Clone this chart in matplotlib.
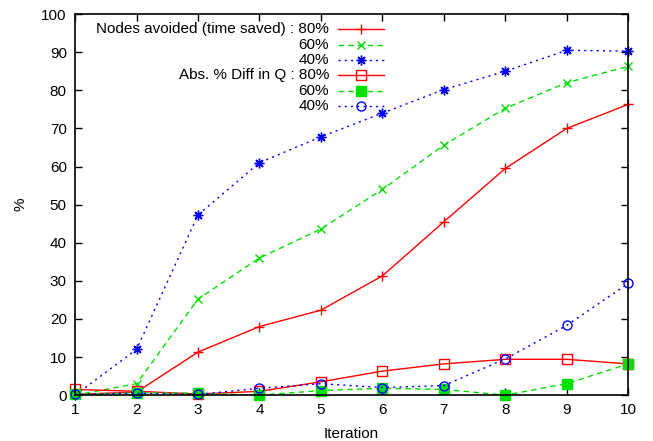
import matplotlib
matplotlib.use('Agg')
from matplotlib import pyplot as plt
from matplotlib.lines import Line2D

plt.rcParams['font.family'] = ['Liberation Sans', 'DejaVu Sans']

# Dados
iteracoes = [1, 2, 3, 4, 5, 6, 7, 8, 9, 10]

nos_80 = [0.2, 0.8, 11.3, 18.0, 22.3, 31.3, 45.5, 59.5, 70.0, 76.3]
nos_60 = [0.0, 3.0, 25.2, 36.0, 43.6, 54.0, 65.6, 75.3, 82.0, 86.3]
nos_40 = [0.0, 12.0, 47.3, 61.0, 67.8, 74.0, 80.2, 85.0, 90.5, 90.3]

diff_80 = [1.5, 1.0, 0.3, 1.0, 3.5, 6.3, 8.2, 9.4, 9.4, 8.2]
diff_60 = [0.2, 0.6, 0.5, 0.0, 1.2, 1.8, 1.5, 0.0, 3.0, 8.2]
diff_40 = [0.2, 0.5, 0.2, 1.8, 3.0, 2.0, 2.5, 9.5, 18.3, 29.3]

legenda = ['Nodes avoided (time saved) : 80%', '60%', '40%',
           'Abs. % Diff in Q : 80%', '60%', '40%']

vermelho, verde, azul = '#ff0000', '#00e000', '#0000ff'
asterisco = (8, 2, 0)

estilos = [
    (nos_80, dict(color=vermelho, ls='-', marker='+', ms=7, mfc='none')),
    (nos_60, dict(color=verde, ls=(0, (4, 3)), marker='x', ms=6, mfc='none')),
    (nos_40, dict(color=azul, ls=(0, (1.5, 3)), marker=asterisco, ms=7, mfc='none')),
    (diff_80, dict(color=vermelho, ls='-', marker='s', ms=6.5, mfc='none')),
    (diff_60, dict(color=verde, ls=(0, (4, 3)), marker='s', ms=6.5, mfc=verde)),
    (diff_40, dict(color=azul, ls=(0, (1.5, 3)), marker='o', ms=6.5, mfc='none')),
]

fig = plt.figure(figsize=(6.53, 4.41), dpi=100)
ax = fig.add_axes([0.115, 0.104, 0.847, 0.864])

for serie, kw in estilos:
    ax.plot(iteracoes, serie, lw=1, mew=1, clip_on=False, **kw)

ax.set_xlim(1, 10)
ax.set_ylim(0, 100)
ax.set_xticks(iteracoes)
ax.set_yticks(range(0, 101, 10))
ax.tick_params(direction='in', top=True, right=True, length=5, width=1,
               labelsize=11, pad=6)
for s in ax.spines.values():
    s.set_linewidth(1.2)

ax.set_xlabel('Iteration', fontsize=11, labelpad=7)
ax.set_ylabel('%', fontsize=11, labelpad=10)

# Legenda estilo gnuplot (texto alinhado a direita)
y0, dy = 29, 15.4
for i, (rotulo, (serie, kw)) in enumerate(zip(legenda, estilos)):
    y = 1 - (y0 + i * dy - 14) / 381.0
    xt = (329 - 75) / 553.0
    ax.text(xt, y, rotulo, transform=ax.transAxes, ha='right', va='center',
            fontsize=11)
    x1, x2 = (338 - 75) / 553.0, (384 - 75) / 553.0
    ax.add_line(Line2D([x1, x2], [y, y], transform=ax.transAxes, lw=1,
                       color=kw['color'], ls=kw['ls']))
    xm = (361 - 75) / 553.0
    kw_m = {k: v for k, v in kw.items() if k not in ('ls',)}
    ax.add_line(Line2D([xm], [y], transform=ax.transAxes, ls='none', mew=1,
                       **kw_m))

fig.savefig('out.png', dpi=100)
